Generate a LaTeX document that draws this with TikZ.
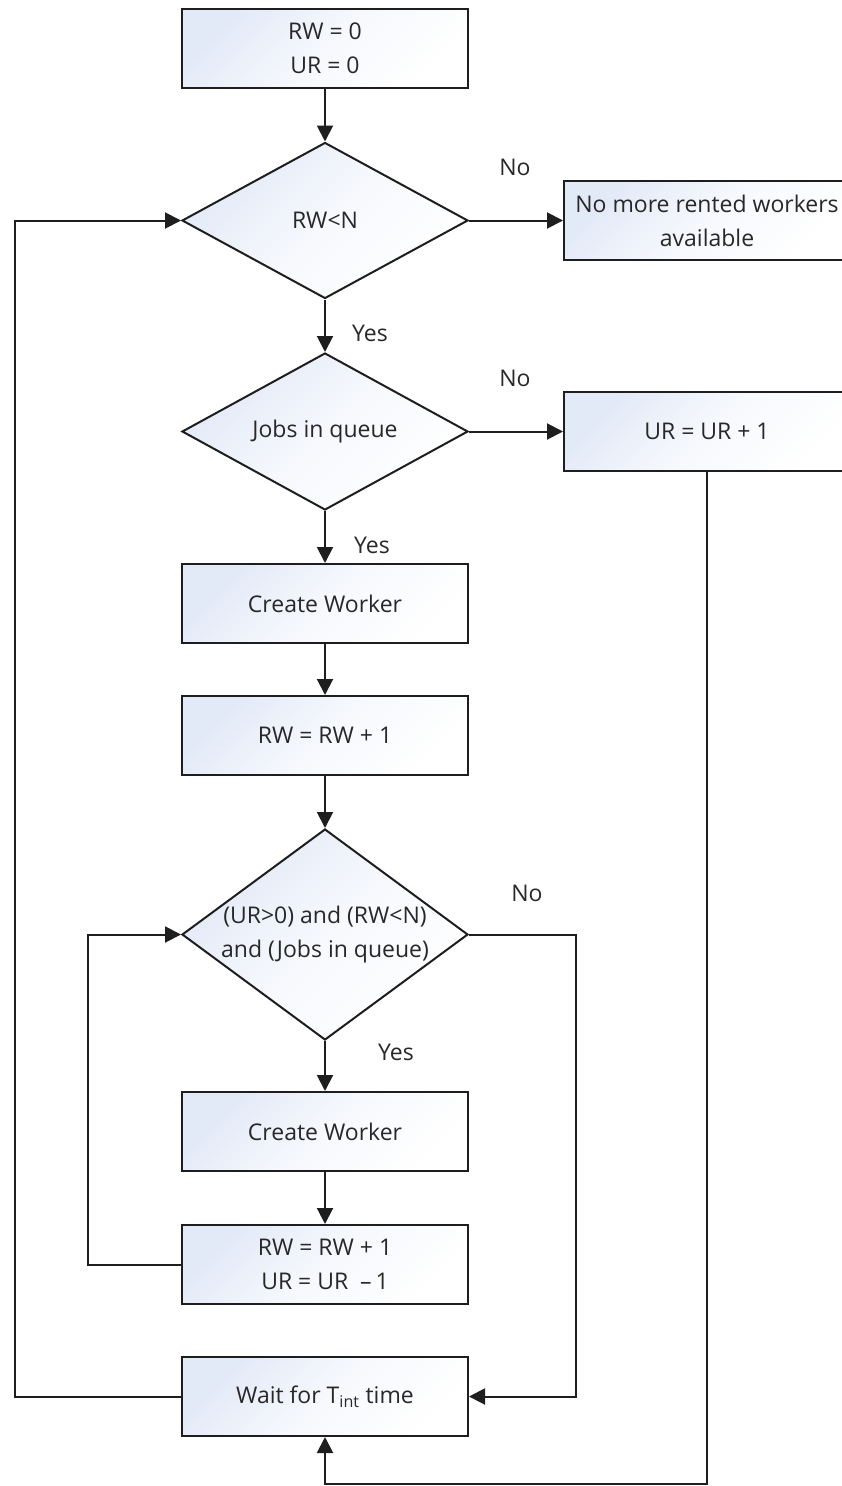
\documentclass[tikz,border=0pt]{standalone}
\usepackage{fontspec}
\setmainfont{Open Sans}
\usetikzlibrary{shapes.geometric,arrows.meta}
\definecolor{boxtint}{RGB}{226,233,247}
\definecolor{ink}{RGB}{30,30,30}
\definecolor{txt}{RGB}{40,40,40}

\begin{document}
\begin{tikzpicture}[x=1pt,y=-1pt,
  font=\fontsize{23}{34}\selectfont, text=txt,
  base/.style={draw=ink, line width=2pt, top color=boxtint, bottom color=white,
               middle color=white!70!boxtint, shading angle=45, inner sep=0pt, align=center},
  stepbox/.style={base, rectangle, minimum width=286pt, minimum height=79pt},
  decision/.style={base, diamond, minimum width=286pt, aspect=1.6},
  flow/.style={draw=ink, line width=2pt, -{Triangle[length=16pt,width=16pt]}},
  lbl/.style={inner sep=0pt}
]
\useasboundingbox (0,0) rectangle (842,1486);
\clip (0,0) rectangle (842,1486);
\fill[white] (0,0) rectangle (842,1486);

% main column
\node[stepbox] (init) at (325,48.5) {RW = 0\\UR = 0};
\node[decision, minimum height=156pt] (d1) at (325,220.5) {RW<N};
\node[stepbox] (nomore) at (707,220.5) {No more rented workers\\available};
\node[decision, minimum height=157pt] (d2) at (325,431.5) {Jobs in queue};
\node[stepbox] (ur) at (707,431.5) {UR = UR + 1};
\node[stepbox] (cw1) at (325,603.5) {Create Worker};
\node[stepbox] (rw1) at (325,735.5) {RW = RW + 1};
\node[decision, minimum height=211pt, aspect=1.36] (d3) at (325,934.5)
  {(UR>0) and (RW<N)\\and (Jobs in queue)};
\node[stepbox] (cw2) at (325,1131.5) {Create Worker};
\node[stepbox] (rw2) at (325,1264.5) {RW = RW + 1\\UR = UR \ –\,1};
\node[stepbox] (wait) at (325,1396.5) {Wait for T\textsubscript{int} time};

% branch labels
\node[lbl] (no1) at (515,167) {No};
\node[lbl] (yes1) at (370,333) {Yes};
\node[lbl] (no2) at (515,378) {No};
\node[lbl] (yes2) at (372,545) {Yes};
\node[lbl] (no3) at (527,893) {No};
\node[lbl] (yes3) at (396,1052) {Yes};

% connectors
\draw[flow] (init) -- (d1);
\draw[flow] (d1) -- (nomore);
\draw[flow] (d1) -- (d2);
\draw[flow] (d2) -- (ur);
\draw[flow] (d2) -- (cw1);
\draw[flow] (cw1) -- (rw1);
\draw[flow] (rw1) -- (d3);
\draw[flow] (d3) -- (cw2);
\draw[flow] (cw2) -- (rw2);

\coordinate (noturn) at (576,934.5);
\draw[flow] (d3.east) -- (noturn) |- (wait.east);

\coordinate (loopin) at (88,1264.5);
\draw[flow] (rw2.west) -- (loopin) |- (d3.west);

\coordinate (loopout) at (15,1396.5);
\draw[flow] (wait.west) -- (loopout) |- (d1.west);

\coordinate (urdown) at (707,1484);
\draw[flow] (ur.south) -- (urdown) -| (wait.south);
\end{tikzpicture}
\end{document}
